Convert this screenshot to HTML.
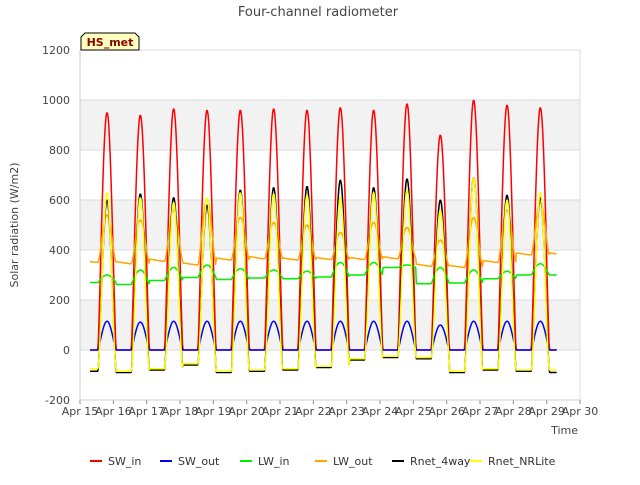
<!DOCTYPE html>
<html><head><meta charset="utf-8"><style>
body{margin:0;background:#fff;font-family:"Liberation Sans","DejaVu Sans",sans-serif}
svg text{font-family:"DejaVu Sans","Liberation Sans",sans-serif}
</style></head><body>
<svg id="chart" width="640" height="480" viewBox="0 0 640 480">
<rect width="640" height="480" fill="#fff"/>
<g id="bands"></g>
<g id="grid"></g>
<g id="series"></g>
<g id="axes"></g>
<text x="318" y="16" text-anchor="middle" font-size="13" fill="#444">Four-channel radiometer</text>
<text x="18" y="225" text-anchor="middle" font-size="11" fill="#444" transform="rotate(-90 18 225)">Solar radiation (W/m2)</text>
<text x="578" y="434" text-anchor="end" font-size="11" fill="#444">Time</text>
<g>
<path d="M81,50 L81,37 L85,33 L135,33 L139,37 L139,50 Z" fill="#ffffc0" stroke="#000" stroke-width="1"/>
<text x="110" y="46" text-anchor="middle" font-size="11" font-weight="bold" fill="#8b0000">HS_met</text>
</g>
<g id="legend"></g>
</svg>
<script>
const days=["Apr 15","Apr 16","Apr 17","Apr 18","Apr 19","Apr 20","Apr 21","Apr 22","Apr 23","Apr 24","Apr 25","Apr 26","Apr 27","Apr 28","Apr 29","Apr 30"];
const yTicks=[-200,0,200,400,600,800,1000,1200];
const swInPeak=[950,940,965,960,960,965,960,970,960,985,860,1000,980,970];
const swOutPeak=[115,112,115,115,115,115,115,115,115,115,100,115,115,115];
const lwInNight=[270,262,278,290,282,288,285,292,300,330,265,268,285,300,300];
const lwInDay=[300,320,330,340,325,320,315,350,350,340,330,320,315,345];
const lwOutNight=[350,345,355,340,360,365,360,362,362,365,335,330,350,380,380];
const lwOutPeak=[540,520,560,600,530,510,500,470,510,490,440,530,560,590];
const rnetPeak=[600,625,610,580,640,650,655,680,650,685,600,690,620,610];
const rnetNight=[-85,-90,-80,-60,-90,-85,-80,-70,-40,-30,-35,-90,-80,-85,-90];
const nrPeak=[630,610,590,610,630,625,620,610,630,640,560,690,600,630];
const nrNight=[-75,-85,-75,-55,-85,-80,-75,-65,-35,-25,-30,-85,-75,-80,-80];

const X0=80,X1=580,Y0=400,Y1=50;
const xs=d=>X0+(d)/15*(X1-X0);
const ys=v=>Y0-(v+200)/1400*(Y0-Y1);
const NS="http://www.w3.org/2000/svg";
function el(t,a,p){const e=document.createElementNS(NS,t);for(const k in a)e.setAttribute(k,a[k]);p.appendChild(e);return e;}
const bands=document.getElementById('bands'),grid=document.getElementById('grid'),axes=document.getElementById('axes'),ser=document.getElementById('series');
for(let i=0;i<yTicks.length-1;i++){if(i%2===1){const r=el('rect',{x:X0,y:ys(yTicks[i+1]),width:X1-X0,height:ys(yTicks[i])-ys(yTicks[i+1]),fill:'#f2f2f2'},bands);

}}
yTicks.forEach(v=>{const l=el('line',{x1:X0,x2:X1,y1:ys(v),y2:ys(v),stroke:'#dcdcdc'},grid);


const t=el('text',{x:X0-10,y:ys(v)+4,'text-anchor':'end','font-size':'11',fill:'#444'},axes);t.textContent=v;

});
days.forEach((d,i)=>{const x=xs(i);const l=el('line',{x1:x,x2:x,y1:Y0,y2:Y0+4,stroke:'#888'},axes);


const t=el('text',{x:x,y:Y0+15,'text-anchor':'middle','font-size':'11',fill:'#444'},axes);t.textContent=d;

});
el('line',{x1:X0,x2:X0,y1:Y1,y2:Y0,stroke:'#ccc'},axes);
el('line',{x1:X0,x2:X1,y1:Y0,y2:Y0,stroke:'#ccc'},axes);
el('line',{x1:X1,x2:X1,y1:Y1,y2:Y0,stroke:'#ddd'},axes);

function sun(t){const c=0.81,h=0.27;let best=0,idx=-1;for(let i=0;i<14;i++){const u=(t-(i+c))/h;if(Math.abs(u)<1){best=Math.cos(u*Math.PI/2);idx=i;}}return [best,idx];}
function nearestDay(t){return Math.max(0,Math.min(14,Math.round(t-0.3)));}
const t0=0.3,t1=14.3,N=14*48;
function build(fn){let pts=[];for(let k=0;k<=N;k++){const t=t0+(t1-t0)*k/N;pts.push(xs(t).toFixed(1)+','+ys(fn(t)).toFixed(1));}return pts.join(' ');}
const defs=[
 ['SW_in','#ff0000',t=>{const [s,i]=sun(t);return i<0?0:swInPeak[i]*Math.pow(s,1.2);}],
 ['LW_out','#ffa500',t=>{const [s,i]=sun(t);const d=nearestDay(t);const n=lwOutNight[d];if(i<0){return n+ (t%1>0.05&&t%1<0.5?20*(0.5-(t%1)):0);}return lwOutNight[i]+(lwOutPeak[i]-lwOutNight[i])*Math.pow(s,1.5);}],
 ['LW_in','#00ee00',t=>{const [s,i]=sun(t);const d=nearestDay(t);if(i<0)return lwInNight[d];return lwInNight[i]+(lwInDay[i]-lwInNight[i])*s;}],
 ['SW_out','#0000ff',t=>{const [s,i]=sun(t);return i<0?0:swOutPeak[i]*Math.pow(s,1.2);}],
 ['Rnet_4way','#000000',t=>{const [s,i]=sun(t);const d=nearestDay(t);if(i<0)return rnetNight[d];return rnetNight[i]+(rnetPeak[i]-rnetNight[i])*Math.pow(s,1.4);}],
 ['Rnet_NRLite','#ffff00',t=>{const [s,i]=sun(t);const d=nearestDay(t);if(i<0)return nrNight[d];return nrNight[i]+(nrPeak[i]-nrNight[i])*Math.pow(s,1.6);}]
];
defs.forEach(([n,c,f])=>{const p=el('polyline',{points:build(f),fill:'none',stroke:c,'stroke-width':'1.5','stroke-linejoin':'round'},ser);

});
const lg=document.getElementById('legend');
const leg=[['SW_in','#ff0000',90],['SW_out','#0000ff',160],['LW_in','#00ee00',240],['LW_out','#ffa500',315],['Rnet_4way','#000000',392],['Rnet_NRLite','#ffff00',470]];
leg.forEach(([n,c,x])=>{const g=el('g',{},lg);


el('line',{x1:x,x2:x+12,y1:461,y2:461,stroke:c,'stroke-width':'2'},g);
const t=el('text',{x:x+18,y:465,'font-size':'11',fill:'#333'},g);t.textContent=n;});
</script>
</body></html>
